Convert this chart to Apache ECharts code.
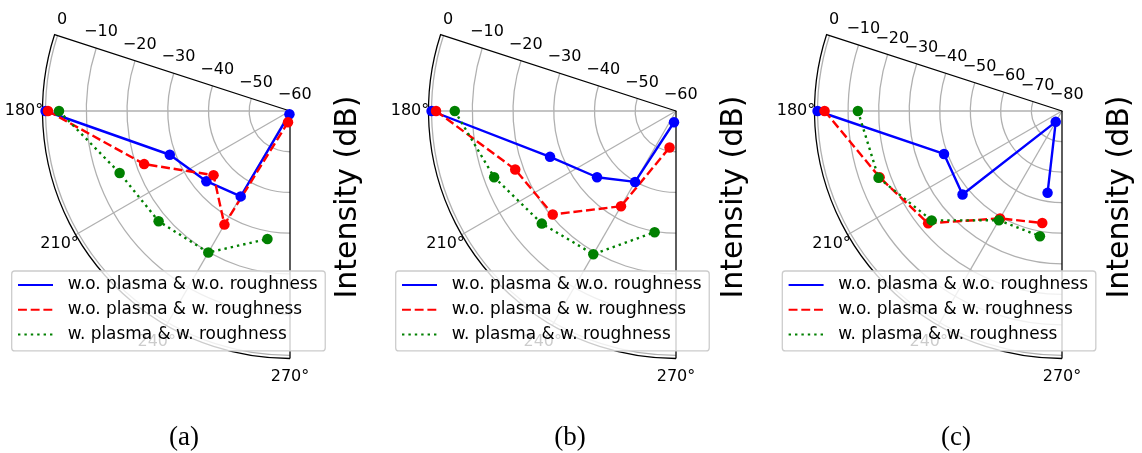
<!DOCTYPE html>
<html>
<head>
<meta charset="utf-8">
<script src="https://cdn.jsdelivr.net/npm/echarts@6/dist/echarts.min.js"></script>
<style>
  html, body { margin: 0; padding: 0; background: #ffffff; }
  #chart { width: 1142px; height: 453px; }
</style>
</head>
<body>
<div id="chart"></div>
<script>
// Observation angles (degrees) shared by all three panels
const angles = [180, 200, 220, 240, 260];

const seriesNames = [
  'w.o. plasma & w.o. roughness',
  'w.o. plasma & w. roughness',
  'w. plasma & w. roughness'
];

// Panel (a): normalised intensity in dB
const aNoPlasmaNoRough = [0, -28.6, -33.2, -35.8, -59.2];
const aNoPlasmaRough   = [-0.6, -21.9, -35.5, -27.8, -57.2];
const aPlasmaRough     = [-3.3, -15.5, -17.9, -19.9, -28.1];

// Panel (b)
const bNoPlasmaNoRough = [0, -27.1, -34.7, -39.9, -57.2];
const bNoPlasmaRough   = [-1.1, -18.0, -20.5, -33.0, -50.9];
const bPlasmaRough     = [-5.7, -12.5, -17.0, -19.4, -29.8];

// Panel (c)
const cNoPlasmaNoRough = [0, -38.9, -37.5, -75.9, -52.8];
const cNoPlasmaRough   = [-2.3, -16.5, -22.8, -39.4, -42.8];
const cPlasmaRough     = [-13.2, -16.1, -24.3, -38.7, -38.4];

// Tick values
const angleTicks = [180, 210, 240, 270];
const radiusTicksAB = [-60, -50, -40, -30, -20, -10, 0];
const radiusTicksC = [-80, -70, -60, -50, -40, -30, -20, -10, 0];

// Radial limits (centre value, rim value)
const radiusLimitsAB = [-60, 0.75];
const radiusLimitsC = [-80, 1];

const panelLabels = ['(a)', '(b)', '(c)'];
const axisTitle = 'Intensity (dB)';

// ---- styling / layout ----
const FONT = '"DejaVu Sans", "Noto Sans", sans-serif';
const colors = ['#0000ff', '#ff0000', '#008000'];
const lineTypes = ['solid', [8.9, 3.8], [2.4, 4]];
const centersX = [290, 676, 1062];
const centerY = 111;
const outerR = 247.5;
const legendLeft = [11.7, 395.7, 782.3];

const panels = [
  { lim: radiusLimitsAB, ticks: radiusTicksAB, values: [aNoPlasmaNoRough, aNoPlasmaRough, aPlasmaRough] },
  { lim: radiusLimitsAB, ticks: radiusTicksAB, values: [bNoPlasmaNoRough, bNoPlasmaRough, bPlasmaRough] },
  { lim: radiusLimitsC,  ticks: radiusTicksC,  values: [cNoPlasmaNoRough, cNoPlasmaRough, cPlasmaRough] }
];

// Neighbouring radial labels overlap a little; listing every other tick first
// keeps the first/last pairs apart so the end-label pruning never drops one.
const labelOrder = ticks => ticks.filter((t, k) => k % 2 === 0).concat(ticks.filter((t, k) => k % 2 === 1));

const fmtDb = v => (v < 0 ? '\u2212' + Math.abs(v) : String(v));
// zero-size rich box: glyphs end up centred on the label anchor
const centredBox = { width: 1, height: 1, lineHeight: 1, align: 'center', verticalAlign: 'middle',
                     fontSize: 16, fontFamily: FONT, color: '#000000' };

const option = {
  animation: false,
  backgroundColor: '#ffffff',
  textStyle: { fontFamily: FONT },
  polar: panels.map((p, i) => ({ center: [centersX[i], centerY], radius: [0, outerR] })),
  angleAxis: panels.map((p, i) => ({
    polarIndex: i,
    type: 'value',
    min: 162, max: 270,
    startAngle: 162, endAngle: 270,
    clockwise: false,
    axisLine: { show: true, lineStyle: { color: '#000000', width: 1.28 } },
    axisTick: { show: false, customValues: angleTicks },
    axisLabel: {
      customValues: angleTicks,
      margin: 18,
      hideOverlap: false,
      formatter: v => '{c|' + v + '\u00b0}',
      rich: { c: centredBox }
    },
    splitLine: { show: true, lineStyle: { color: ['#b0b0b0', '#b0b0b0', '#b0b0b0', '#000000'], width: 1.28 } }
  })),
  radiusAxis: panels.map((p, i) => ({
    polarIndex: i,
    type: 'value',
    min: p.lim[0], max: p.lim[1],
    axisLine: { show: true, lineStyle: { color: '#000000', width: 1.28 } },
    axisTick: { show: false, customValues: p.ticks },
    axisLabel: {
      customValues: labelOrder(p.ticks),
      margin: -16.8,
      hideOverlap: false,
      showMinLabel: true,
      showMaxLabel: true,
      formatter: v => (p.ticks.indexOf(v) >= 0 ? '{r|' + fmtDb(v) + '}' : ''),
      rich: { r: centredBox }
    },
    splitLine: { show: true, lineStyle: { color: '#b0b0b0', width: 1.28 } }
  })),
  legend: panels.map((p, i) => ({
    orient: 'vertical',
    left: legendLeft[i], top: 271,
    data: seriesNames,
    selectedMode: false,
    itemWidth: 35, itemHeight: 17, itemGap: 7.7,
    padding: [5.5, 7.7, 8, 5.3],
    backgroundColor: 'rgba(255,255,255,0.8)',
    borderColor: '#cccccc', borderWidth: 1.28, borderRadius: 3,
    itemStyle: { opacity: 0 },
    formatter: name => '{g| }{t|' + name + '}',
    textStyle: {
      fontFamily: FONT, fontSize: 16.9, color: '#000000', lineHeight: 17,
      rich: {
        g: { width: 9.7, fontSize: 16.9, lineHeight: 17 },
        t: { fontFamily: FONT, fontSize: 16.9, color: '#000000', lineHeight: 17 }
      }
    }
  })),
  graphic: [
    ...centersX.map(cx => ({
      type: 'text', x: cx + 58.5, y: 197, rotation: Math.PI / 2,
      style: { text: axisTitle, font: '30px ' + FONT, fill: '#000000', align: 'center', verticalAlign: 'middle' }
    })),
    ...panelLabels.map((t, i) => ({
      type: 'text', x: centersX[i] - 106, y: 438,
      style: { text: t, font: '27px "Liberation Serif", serif', fill: '#000000', align: 'center', verticalAlign: 'middle' }
    }))
  ],
  series: []
};

panels.forEach((p, i) => {
  p.values.forEach((vals, j) => {
    option.series.push({
      type: 'line',
      name: seriesNames[j],
      coordinateSystem: 'polar',
      polarIndex: i,
      data: vals.map((v, k) => [v, angles[k]]),
      symbol: 'circle',
      symbolSize: 10.5,
      showSymbol: true,
      lineStyle: { color: colors[j], width: 2.4, type: lineTypes[j] },
      itemStyle: { color: colors[j] },
      emphasis: { disabled: true }
    });
  });
});

const chart = echarts.init(document.getElementById('chart'), null, { renderer: 'canvas' });
chart.setOption(option);
</script>
</body>
</html>
